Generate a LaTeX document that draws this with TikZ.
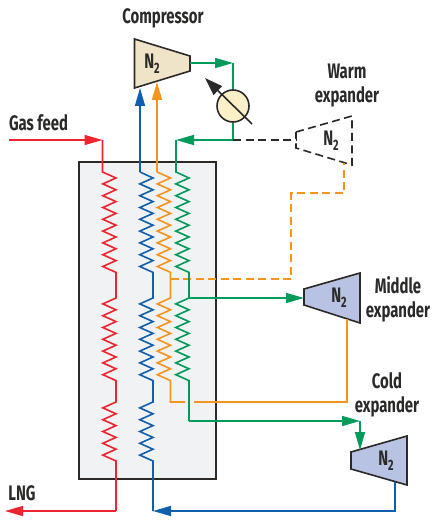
\documentclass[tikz,border=0pt]{standalone}
\usepackage{fontspec}
\setmainfont{Fira Sans}[FakeStretch=0.71]
\usetikzlibrary{arrows.meta}
\definecolor{redline}{HTML}{EE2530}
\definecolor{blueline}{HTML}{0F5FAE}
\definecolor{orangeline}{HTML}{F7941E}
\definecolor{greenline}{HTML}{009A5B}
\definecolor{darkline}{HTML}{2B2A29}
\definecolor{boxfill}{HTML}{F1F2F4}
\definecolor{compfill}{HTML}{F0E4C8}
\definecolor{motorfill}{HTML}{FDF0C8}
\definecolor{expfill}{HTML}{B8C2E2}
\tikzset{
  pipe/.style={line width=1.6pt,line join=miter},
  tip/.style={-{Triangle[length=18pt,width=10pt]}},
  brokenline/.style={dash pattern=on 8pt off 4.5pt},
  casing/.style={draw=darkline,line width=1.6pt,line join=miter},
  stage/.style={font=\bfseries\fontsize{21}{21}\selectfont,text=darkline,inner sep=0pt},
  caption/.style={font=\bfseries\fontsize{21}{24}\selectfont,text=darkline,align=center,inner sep=0pt}
}
\newcommand{\coil}[1]{\foreach \i in {1,...,#1}{ -- ++(-13.2,5.9) -- ++(13.2,5.9)}}
\newcommand{\Ntwo}{N\raisebox{-0.45ex}{\fontsize{15}{15}\selectfont 2}}
\begin{document}
\begin{tikzpicture}[x=1pt,y=-1pt]
\useasboundingbox (0,0) rectangle (432,524);

% Heat exchanger
\node[casing,fill=boxfill,minimum width=137pt,minimum height=317pt,inner sep=0pt,anchor=north west] (box) at (78,161) {};

% Machines
\draw[casing,fill=compfill] (134.5,39) -- (190,56) -- (190,71) -- (134.5,88) -- cycle;
\node[stage] (compN) at (152,64) {\Ntwo};
\draw[casing,brokenline] (296,132) -- (352,116) -- (352,165) -- (296,148) -- cycle;
\node[stage] (warmN) at (331,141) {\Ntwo};
\draw[casing,fill=expfill] (304,289) -- (360,273) -- (360,323) -- (304,305) -- cycle;
\node[stage] (midN) at (339,298) {\Ntwo};
\draw[casing,fill=expfill] (351,452) -- (407,436) -- (407,485) -- (351,469) -- cycle;
\node[stage] (coldN) at (386,461) {\Ntwo};

% Named ends
\coordinate (compout) at (190,63);
\coordinate (compblue) at (140,88);
\coordinate (comporange) at (157,82);
\coordinate (junction) at (233,140);
\coordinate (warmin) at (296,140);
\coordinate (warmout) at (344,163);
\coordinate (midin) at (304,298);
\coordinate (midout) at (347,319);
\coordinate (coldin) at (360,450);
\coordinate (coldout) at (395,482);
\coordinate (gasin) at (9,140);
\coordinate (lngout) at (5,511);

% Motor
\node[circle,draw=darkline,line width=1.6pt,fill=motorfill,minimum size=32pt,inner sep=0pt] (motor) at (233,106) {};

% Orange stream
\draw[orangeline,pipe,tip] (157,172) -- (comporange);
\draw[orangeline,pipe] (157,172) -- (170.5,178) \coil{8} -- (170.5,298) \coil{7} -- (170.5,402) -- (185,402);
\draw[orangeline,pipe] (194,402) -- (347,402) -- (midout);
\draw[orangeline,pipe,brokenline] (170.5,279) -- (291,279) -- (291,193) -- (344,193) -- (warmout);

% Green loop
\draw[greenline,pipe,tip] (compout) -- (233,63);
\draw[greenline,pipe] (233,63) -- (motor.north);
\draw[greenline,pipe] (motor.south) -- (junction);
\draw[greenline,pipe,tip] (junction) -- (176,140);
\draw[greenline,pipe] (176,140) -- (176,172) -- (189,178) \coil{8} -- (189,298) \coil{7} -- (189,421);
\draw[greenline,pipe,tip] (189,298) -- (midin);
\draw[greenline,pipe,tip] (189,421) -- (360,421);
\draw[greenline,pipe,tip] (360,421) -- (coldin);
\draw[darkline,pipe,brokenline] (junction) -- (warmin);

% Red stream
\draw[redline,pipe,tip] (gasin) -- (102.5,140);
\draw[redline,pipe] (102.5,140) -- (102.5,172) -- (116,178) \coil{8} -- (116,298) \coil{7} -- (116,402) \coil{5} -- (116,511);
\draw[redline,pipe,tip] (116,511) -- (lngout);

% Blue stream
\draw[blueline,pipe,tip] (140,172) -- (compblue);
\draw[blueline,pipe] (140,172) -- (153,178) \coil{8} -- (153,298) \coil{7} -- (153,402) \coil{5} -- (153,511);
\draw[blueline,pipe,tip] (coldout) |- (153,511);

% Speed control arrow
\draw[darkline,line width=1.6pt,-{Triangle[length=18pt,width=12pt]}] (252,124) -- (205,78);

% Labels
\node[caption] (complabel) at (163,18.5) {Compressor};
\node[caption] (gaslabel) at (38.5,123) {Gas feed};
\node[caption] (warmlabel) at (347,86) {Warm\\expander};
\node[caption] (midlabel) at (398,299) {Middle\\expander};
\node[caption] (coldlabel) at (387,395) {Cold\\expander};
\node[caption] (lnglabel) at (22,493) {LNG};
\end{tikzpicture}
\end{document}
